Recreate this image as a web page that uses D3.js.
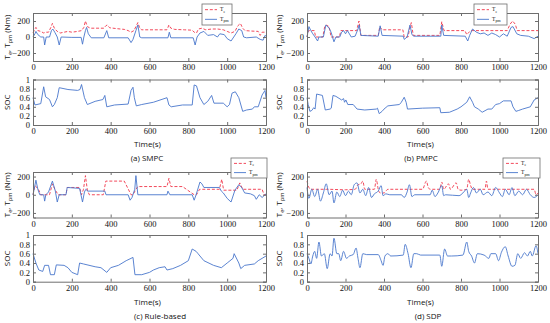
<!DOCTYPE html>
<html><head><meta charset="utf-8">
<script src="https://cdn.jsdelivr.net/npm/d3@7"></script>
<style>body{margin:0;background:#fff}svg{display:block}</style>
</head><body>
<svg id="c" width="550" height="323"></svg>
<script>
// ---------- DATA ----------
const xTicks = [0, 200, 400, 600, 800, 1000, 1200];
const torqueTicks = [-200, 0, 200];
const socTicks = [0, 0.2, 0.4, 0.6, 0.8, 1];
const captions = ["(a) SMPC", "(b) PMPC", "(c) Rule-based", "(d) SDP"];
const legendLabels = ["e", "pm"];

// (a) SMPC
const smpcTe = [[0,50],[8,90],[15,120],[25,80],[40,70],[55,50],[65,60],[80,60],[92,120],[100,170],[110,110],[125,70],[140,50],[160,60],[180,70],[200,60],[230,70],[250,80],[262,120],[270,200],[280,130],[295,110],[330,110],[365,110],[375,140],[382,150],[395,115],[430,105],[470,95],[490,80],[505,60],[520,80],[530,130],[540,180],[550,110],[560,90],[620,90],[690,90],[700,150],[710,110],[730,95],[780,90],[820,85],[830,60],[842,50],[852,100],[870,110],[890,90],[920,100],[950,100],[980,90],[1000,70],[1020,50],[1040,70],[1055,140],[1068,170],[1080,110],[1092,80],[1120,75],[1160,70],[1170,20],[1180,60],[1200,60]];
const smpcTpm = [[0,0],[10,40],[15,70],[25,30],[40,0],[55,0],[60,-100],[68,0],[85,0],[95,80],[102,100],[112,60],[125,0],[135,-100],[145,0],[200,-5],[248,-5],[255,-90],[262,0],[270,80],[276,120],[285,40],[300,-10],[365,-10],[380,80],[390,-10],[490,-10],[505,-70],[515,-30],[530,80],[540,150],[550,0],[560,-10],[695,-10],[702,60],[710,-10],[825,-10],[835,-100],[845,0],[860,50],[880,70],[900,20],[930,30],[950,0],[962,40],[985,30],[1000,-20],[1020,-50],[1045,40],[1060,100],[1075,80],[1085,0],[1100,-10],[1150,0],[1170,-30],[1185,-40],[1195,20],[1200,10]];
const smpcSoc = [[0,0.6],[10,0.44],[40,0.47],[55,0.84],[65,0.62],[85,0.56],[100,0.4],[110,0.45],[125,0.6],[135,0.82],[180,0.78],[230,0.76],[242,0.78],[250,0.89],[265,0.6],[280,0.45],[320,0.52],[360,0.56],[370,0.65],[380,0.4],[420,0.44],[490,0.46],[505,0.76],[515,0.83],[522,0.6],[532,0.42],[560,0.45],[620,0.5],[690,0.6],[700,0.44],[712,0.4],[770,0.44],[820,0.44],[830,0.88],[842,0.86],[860,0.6],[880,0.45],[900,0.52],[920,0.65],[932,0.48],[980,0.48],[1000,0.4],[1012,0.45],[1025,0.7],[1042,0.73],[1060,0.6],[1080,0.3],[1100,0.33],[1130,0.35],[1140,0.4],[1160,0.4],[1180,0.66],[1195,0.76],[1200,0.6]];

// (b) PMPC
const pmpcTe = [[0,0],[8,80],[38,80],[45,0],[82,0],[92,130],[100,150],[115,130],[125,0],[168,0],[176,80],[258,80],[270,200],[280,20],[370,20],[378,130],[390,90],[498,90],[505,0],[525,0],[535,130],[542,180],[552,20],[690,20],[700,190],[712,80],[820,80],[830,30],[850,80],[862,80],[1000,80],[1040,80],[1055,160],[1068,200],[1082,160],[1092,80],[1200,80]];
const pmpcTpm = [[0,0],[10,130],[20,80],[30,40],[42,0],[55,-50],[62,0],[85,0],[98,150],[115,110],[125,60],[140,-60],[150,0],[170,0],[180,60],[190,80],[200,40],[210,80],[230,0],[250,10],[265,100],[271,150],[280,20],[370,10],[380,140],[390,20],[500,10],[505,-30],[520,0],[535,150],[545,30],[555,10],[695,10],[700,150],[710,20],[822,10],[835,-50],[845,20],[860,100],[880,60],[900,40],[920,50],[940,20],[960,50],[980,30],[1000,0],[1020,40],[1040,10],[1060,120],[1070,130],[1090,40],[1110,20],[1150,10],[1180,-20],[1200,10]];
const pmpcSoc = [[0,0.6],[6,0.45],[15,0.3],[25,0.32],[35,0.38],[42,0.35],[50,0.68],[80,0.65],[95,0.33],[120,0.35],[126,0.37],[135,0.65],[150,0.63],[180,0.55],[190,0.58],[195,0.5],[202,0.55],[212,0.45],[240,0.45],[260,0.35],[300,0.33],[360,0.35],[366,0.37],[375,0.25],[390,0.3],[400,0.35],[420,0.42],[480,0.45],[490,0.5],[505,0.61],[515,0.5],[522,0.35],[600,0.37],[690,0.38],[695,0.27],[740,0.28],[780,0.35],[800,0.4],[830,0.5],[845,0.62],[860,0.5],[870,0.4],[890,0.35],[910,0.28],[940,0.35],[960,0.35],[980,0.45],[1000,0.47],[1020,0.53],[1060,0.53],[1070,0.4],[1085,0.3],[1100,0.32],[1120,0.35],[1160,0.4],[1180,0.55],[1200,0.6]];

// (c) Rule-based
const ruleTe = [[0,0],[10,100],[20,80],[30,50],[40,0],[85,0],[100,120],[115,50],[130,0],[170,0],[176,80],[240,80],[250,0],[260,60],[270,210],[280,50],[290,0],[362,0],[375,150],[470,150],[505,0],[515,0],[530,60],[540,90],[690,90],[700,180],[710,90],[770,90],[830,0],[842,0],[858,60],[960,60],[972,170],[982,50],[1050,50],[1065,130],[1080,60],[1180,60],[1190,0],[1200,0]];
const ruleTpm = [[0,0],[15,160],[25,60],[35,0],[55,0],[60,-70],[66,0],[80,30],[100,150],[115,40],[125,-80],[135,0],[170,0],[176,80],[240,70],[255,-80],[265,30],[272,60],[282,40],[370,40],[376,0],[490,0],[500,-60],[510,-30],[524,60],[530,210],[540,0],[690,0],[695,40],[705,0],[820,0],[830,-60],[840,0],[860,140],[870,120],[880,80],[960,80],[970,40],[980,20],[1000,-40],[1020,-80],[1040,50],[1060,110],[1075,80],[1090,20],[1120,10],[1140,-10],[1150,-50],[1165,0],[1180,-30],[1200,10]];
const ruleSoc = [[0,0.6],[15,0.4],[30,0.25],[50,0.22],[60,0.35],[80,0.35],[90,0.15],[110,0.15],[120,0.36],[160,0.35],[180,0.3],[200,0.2],[230,0.15],[240,0.4],[260,0.38],[320,0.32],[350,0.3],[380,0.2],[400,0.3],[440,0.35],[480,0.45],[515,0.52],[525,0.15],[560,0.15],[600,0.2],[620,0.25],[650,0.3],[680,0.32],[690,0.25],[720,0.28],[760,0.35],[800,0.45],[820,0.7],[840,0.65],[850,0.6],[880,0.45],[930,0.35],[970,0.3],[1000,0.4],[1030,0.5],[1036,0.6],[1060,0.4],[1070,0.28],[1090,0.35],[1140,0.38],[1160,0.45],[1180,0.5],[1200,0.55]];

// (d) SDP
const sdpTe = [[0,150],[10,80],[20,60],[100,60],[200,55],[250,60],[265,110],[280,120],[290,150],[300,60],[350,60],[360,170],[370,60],[380,20],[400,20],[420,60],[500,60],[560,60],[600,60],[620,150],[630,80],[640,60],[690,60],[700,140],[710,60],[735,120],[745,60],[775,130],[785,60],[800,50],[830,60],[840,170],[850,100],[860,60],[925,60],[932,150],[940,60],[1000,60],[1100,60],[1180,60],[1190,0],[1200,20]];
const sdpTpm = [[0,80],[10,-40],[25,60],[40,-20],[55,60],[70,-70],[85,20],[100,120],[115,0],[130,40],[140,-90],[155,30],[170,-20],[185,50],[200,-10],[215,40],[230,0],[245,110],[260,130],[275,20],[290,60],[305,-10],[320,80],[335,-30],[350,10],[370,40],[385,100],[395,-10],[410,10],[430,0],[490,0],[505,-30],[520,30],[532,110],[545,-20],[560,0],[640,0],[650,50],[665,-20],[680,20],[700,100],[710,-10],[720,0],[790,-10],[810,20],[830,60],[840,-30],[850,20],[865,80],[880,20],[900,60],[915,0],[940,30],[960,-10],[980,80],[1000,20],[1015,-20],[1030,60],[1050,0],[1065,80],[1080,-10],[1100,40],[1120,0],[1140,60],[1160,0],[1180,-30],[1200,0]];
const sdpSoc = [[0,0.6],[10,0.5],[20,0.38],[30,0.55],[40,0.65],[50,0.5],[62,0.85],[75,0.55],[90,0.6],[105,0.28],[120,0.6],[130,0.55],[140,0.93],[155,0.6],[165,0.6],[175,0.45],[190,0.65],[205,0.5],[220,0.55],[240,0.58],[255,0.72],[265,0.5],[275,0.3],[290,0.6],[310,0.58],[370,0.58],[385,0.45],[395,0.35],[405,0.55],[420,0.6],[435,0.55],[500,0.57],[510,0.8],[525,0.6],[540,0.3],[555,0.6],[570,0.6],[590,0.57],[690,0.57],[700,0.33],[715,0.7],[730,0.55],[750,0.55],[810,0.57],[830,0.85],[840,0.65],[855,0.55],[870,0.4],[885,0.6],[920,0.57],[945,0.5],[955,0.6],[980,0.6],[995,0.45],[1010,0.63],[1030,0.75],[1045,0.55],[1065,0.33],[1080,0.35],[1095,0.6],[1110,0.5],[1130,0.62],[1145,0.55],[1160,0.65],[1170,0.55],[1190,0.77],[1200,0.6]];

// ---------- DRAW ----------
const svg = d3.select("#c");
const RED = "#f0354a", BLUE = "#4876cc", FRAME = "#6e6e6e";
const tickFont = "'Liberation Serif', 'Times New Roman', serif";
const sansFont = "'Open Sans', 'Liberation Sans', Arial, sans-serif";

const panels = [
  {te: smpcTe, tpm: smpcTpm, soc: smpcSoc, cap: captions[0], x0: 33, x1: 266, t0: 13, t1: 61, tdom: [-300, 300], s0: 79.5, s1: 125, lab: 8, timeY: 147, capY: 160.5, capX: 147, leg: {x: 202, y: 4, w: 30, h: 21}, curve: d3.curveLinear},
  {te: pmpcTe, tpm: pmpcTpm, soc: pmpcSoc, cap: captions[1], x0: 307, x1: 538, t0: 13, t1: 61, tdom: [-300, 300], s0: 79.5, s1: 125, lab: 280, timeY: 147, capY: 160.5, capX: 421, leg: {x: 474, y: 4, w: 33, h: 21}, curve: d3.curveLinear},
  {te: ruleTe, tpm: ruleTpm, soc: ruleSoc, cap: captions[2], x0: 33, x1: 266, t0: 172, t1: 217.5, tdom: [-250, 250], s0: 235, s1: 281.7, lab: 8, timeY: 304.5, capY: 318.5, capX: 160, leg: {x: 231, y: 158, w: 36, h: 20}, curve: d3.curveLinear},
  {te: sdpTe, tpm: sdpTpm, soc: sdpSoc, cap: captions[3], x0: 307, x1: 538, t0: 172, t1: 217.5, tdom: [-250, 250], s0: 235, s1: 281.7, lab: 280, timeY: 304.5, capY: 318.5, capX: 428, leg: {x: 503, y: 158, w: 37, h: 20}, curve: d3.curveMonotoneX}
];

function frame(g, x, y, yTicks, fmt, top, bottom) {
  const [l, r] = x.range();
  g.append("g").attr("transform", `translate(0,${bottom})`)
    .call(d3.axisBottom(x).tickValues(xTicks).tickSize(-3).tickPadding(3).tickFormat(d3.format("d")))
    .call(s => { s.select(".domain").attr("stroke", FRAME); s.selectAll(".tick line").attr("stroke", FRAME);
      s.selectAll("text").attr("font-family", tickFont).attr("font-size", 8.5).attr("fill", "#111"); });
  g.append("g").attr("transform", `translate(0,${top})`)
    .call(d3.axisTop(x).tickValues(xTicks).tickSize(-3).tickFormat(""))
    .call(s => { s.select(".domain").attr("stroke", FRAME); s.selectAll(".tick line").attr("stroke", FRAME); });
  g.append("g").attr("transform", `translate(${l},0)`)
    .call(d3.axisLeft(y).tickValues(yTicks).tickSize(-3).tickPadding(3).tickFormat(fmt))
    .call(s => { s.select(".domain").attr("stroke", FRAME); s.selectAll(".tick line").attr("stroke", FRAME);
      s.selectAll("text").attr("font-family", tickFont).attr("font-size", 8.5).attr("fill", "#111"); });
  g.append("g").attr("transform", `translate(${r},0)`)
    .call(d3.axisRight(y).tickValues(yTicks).tickSize(-3).tickFormat(""))
    .call(s => { s.select(".domain").attr("stroke", FRAME); s.selectAll(".tick line").attr("stroke", FRAME); });
}

panels.forEach(p => {
  const g = svg.append("g");
  const x = d3.scaleLinear().domain([0, 1200]).range([p.x0, p.x1]);
  const yT = d3.scaleLinear().domain(p.tdom).range([p.t1, p.t0]);
  const yS = d3.scaleLinear().domain([0, 1]).range([p.s1, p.s0]);

  // torque lines
  const lineT = d3.line().x(d => x(d[0])).y(d => yT(d[1])).curve(p.curve);
  g.append("path").datum(p.te).attr("d", lineT).attr("fill", "none").attr("stroke", RED)
    .attr("stroke-width", 0.9).attr("stroke-dasharray", "3,1.8");
  g.append("path").datum(p.tpm).attr("d", lineT).attr("fill", "none").attr("stroke", BLUE).attr("stroke-width", 0.9);
  frame(g, x, yT, torqueTicks, d3.format("d"), p.t0, p.t1);

  // SOC
  const lineS = d3.line().x(d => x(d[0])).y(d => yS(d[1])).curve(p.curve);
  g.append("path").datum(p.soc).attr("d", lineS).attr("fill", "none").attr("stroke", BLUE).attr("stroke-width", 0.9);
  frame(g, x, yS, socTicks, d => d === 0 || d === 1 ? d3.format("d")(d) : d3.format(".1f")(d), p.s0, p.s1);

  // y labels
  const tl = g.append("text").attr("transform", `translate(${p.lab},${(p.t0 + p.t1) / 2}) rotate(-90)`)
    .attr("text-anchor", "middle").attr("dominant-baseline", "middle")
    .attr("font-family", sansFont).attr("font-size", 8).attr("fill", "#111");
  tl.append("tspan").text("T");
  tl.append("tspan").attr("font-size", 5.5).attr("dy", 2.5).text(legendLabels[0]);
  tl.append("tspan").attr("dy", -2.5).text(", T");
  tl.append("tspan").attr("font-size", 5.5).attr("dy", 2.5).text(legendLabels[1]);
  tl.append("tspan").attr("dy", -2.5).text(" (Nm)");
  g.append("text").attr("transform", `translate(${p.lab},${(p.s0 + p.s1) / 2}) rotate(-90)`)
    .attr("text-anchor", "middle").attr("dominant-baseline", "middle")
    .attr("font-family", sansFont).attr("font-size", 8).attr("fill", "#111").text("SOC");

  // x label & caption
  g.append("text").attr("x", (p.x0 + p.x1) / 2 - 2).attr("y", p.timeY).attr("text-anchor", "middle")
    .attr("font-family", sansFont).attr("font-size", 8).attr("fill", "#111").text("Time(s)");
  g.append("text").attr("x", p.capX).attr("y", p.capY).attr("text-anchor", "middle")
    .attr("font-family", sansFont).attr("font-size", 8).attr("fill", "#111").text(p.cap);

  // legend
  const L = p.leg;
  const lg = g.append("g");
  lg.append("rect").attr("x", L.x).attr("y", L.y).attr("width", L.w).attr("height", L.h)
    .attr("fill", "#fff").attr("stroke", FRAME).attr("stroke-width", 0.8);
  const rows = [{c: RED, dash: "3,1.8", sub: legendLabels[0]}, {c: BLUE, dash: null, sub: legendLabels[1]}];
  rows.forEach((r, i) => {
    const yy = L.y + L.h * (i === 0 ? 0.27 : 0.73);
    lg.append("line").attr("x1", L.x + 3).attr("x2", L.x + 15).attr("y1", yy).attr("y2", yy)
      .attr("stroke", r.c).attr("stroke-width", 0.9).attr("stroke-dasharray", r.dash);
    const t = lg.append("text").attr("x", L.x + 18).attr("y", yy + 1.5)
      .attr("font-family", tickFont).attr("font-size", 5.5).attr("fill", "#111");
    t.append("tspan").text("T");
    t.append("tspan").attr("font-size", 4).attr("dy", 1.5).text(r.sub);
  });
});
</script>
</body></html>
